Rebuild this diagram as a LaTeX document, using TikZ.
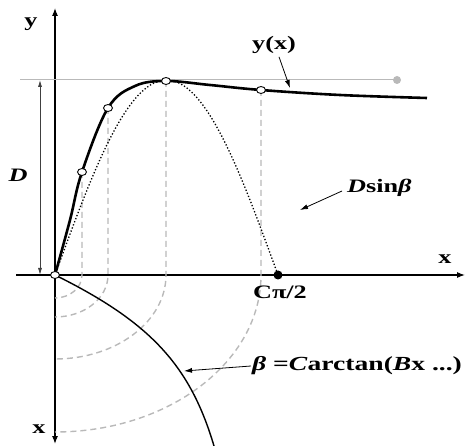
\documentclass[tikz,border=0pt]{standalone}
\usepackage{fontspec}
\setmainfont[FakeStretch=1.38]{Liberation Serif}
\usetikzlibrary{arrows.meta,shapes.geometric}

\tikzset{
  axis/.style={line width=1.1pt, -{Latex[length=8pt,width=6pt]}},
  guide/.style={gray!55, line width=1.4pt, dash pattern=on 6pt off 4pt},
  pt/.style={ellipse, draw, fill=white, line width=0.9pt, inner sep=0pt, minimum width=9pt, minimum height=7pt},
  lbl/.style={font=\fontsize{19}{22}\selectfont\bfseries, inner sep=1pt},
  note/.style={line width=0.8pt, -{Latex[length=8pt,width=5pt]}}
}

\begin{document}
\begin{tikzpicture}[x=1pt, y=-1pt]
        \useasboundingbox (0,0) rectangle (466,446);

        % 1. Axes
        \draw[axis] (16,275) -- (465,275);
        \draw[axis, {Latex[length=8pt,width=6pt]}-{Latex[length=8pt,width=6pt]}] (55,444) -- (55,8);
        \node[lbl] (ylab) at (31,24) {y};
        \node[lbl] (xdown) at (39,429) {x};
        \node[lbl] (xright) at (445,259) {x};

        % 2. Level D and its arrow
        \draw[gray!55, line width=1pt] (20,80) -- (397,80);
        \fill[gray!55] (397,80) circle (4pt);
        \draw[black!75, line width=0.8pt, {Latex[length=7pt,width=4pt]}-{Latex[length=7pt,width=4pt]}] (40,80) -- (40,275);
        \node[lbl] (dlab) at (18,175) {\textit{D}};

        % 3. Dashed guides: verticals and quarter arcs
        \foreach \a/\b/\h in {82/23/172, 108/42/108, 166/84/81, 261/157/90}
            \draw[guide] (\a,\h) -- (\a,275) arc[start angle=0, end angle=90, x radius={\a-55}, y radius=\b];

        % 4. D sin(beta), dotted
        \draw[dotted, line width=1.3pt, domain=0:180, samples=60] plot ({55+\x*1.2389}, {275-195*sin(\x)});

        % 5. beta = C arctan(Bx ...)
        \draw[line width=1.4pt] (55,275) .. controls (150,322) and (190,365) .. (214,446);

        % 6. y(x)
        \draw[line width=2.6pt] plot[smooth, tension=0.6] coordinates {(55,275) (70,220) (82,172) (108,108) (135,86) (166,81) (210,85) (261,90) (340,95) (427,98)};

        % 7. Marked points
        \node[pt] (o) at (55,275) {};
        \node[pt] (p1) at (82,172) {};
        \node[pt] (p2) at (108,108) {};
        \node[pt] (p3) at (166,81) {};
        \node[pt] (p4) at (261,90) {};
        \fill (278,275) circle (4.5pt);
        \node[lbl] (cpi) at (280,292) {Cπ/2};

        % 8. Labels with arrows
        \node[lbl] (ytag) at (274,45) {y(x)};
        \coordinate (ytip) at (290,88);
        \draw[note] (ytag.south) ++(5,2) -- (ytip);

        \node[lbl, anchor=west] (dsin) at (346,188) {\textit{D}sin\textit{β}};
        \coordinate (dtip) at (300,210);
        \draw[note] (dsin.west) ++(-4,3) -- (dtip);

        \node[lbl, anchor=west, font=\fontsize{20}{23}\selectfont\bfseries] (btag) at (251,366) {\textit{β} =\textit{C}arctan(\textit{B}x ...)};
        \coordinate (btip) at (184,371);
        \draw[note] (btag.west) -- (btip);

    \end{tikzpicture}
\end{document}
